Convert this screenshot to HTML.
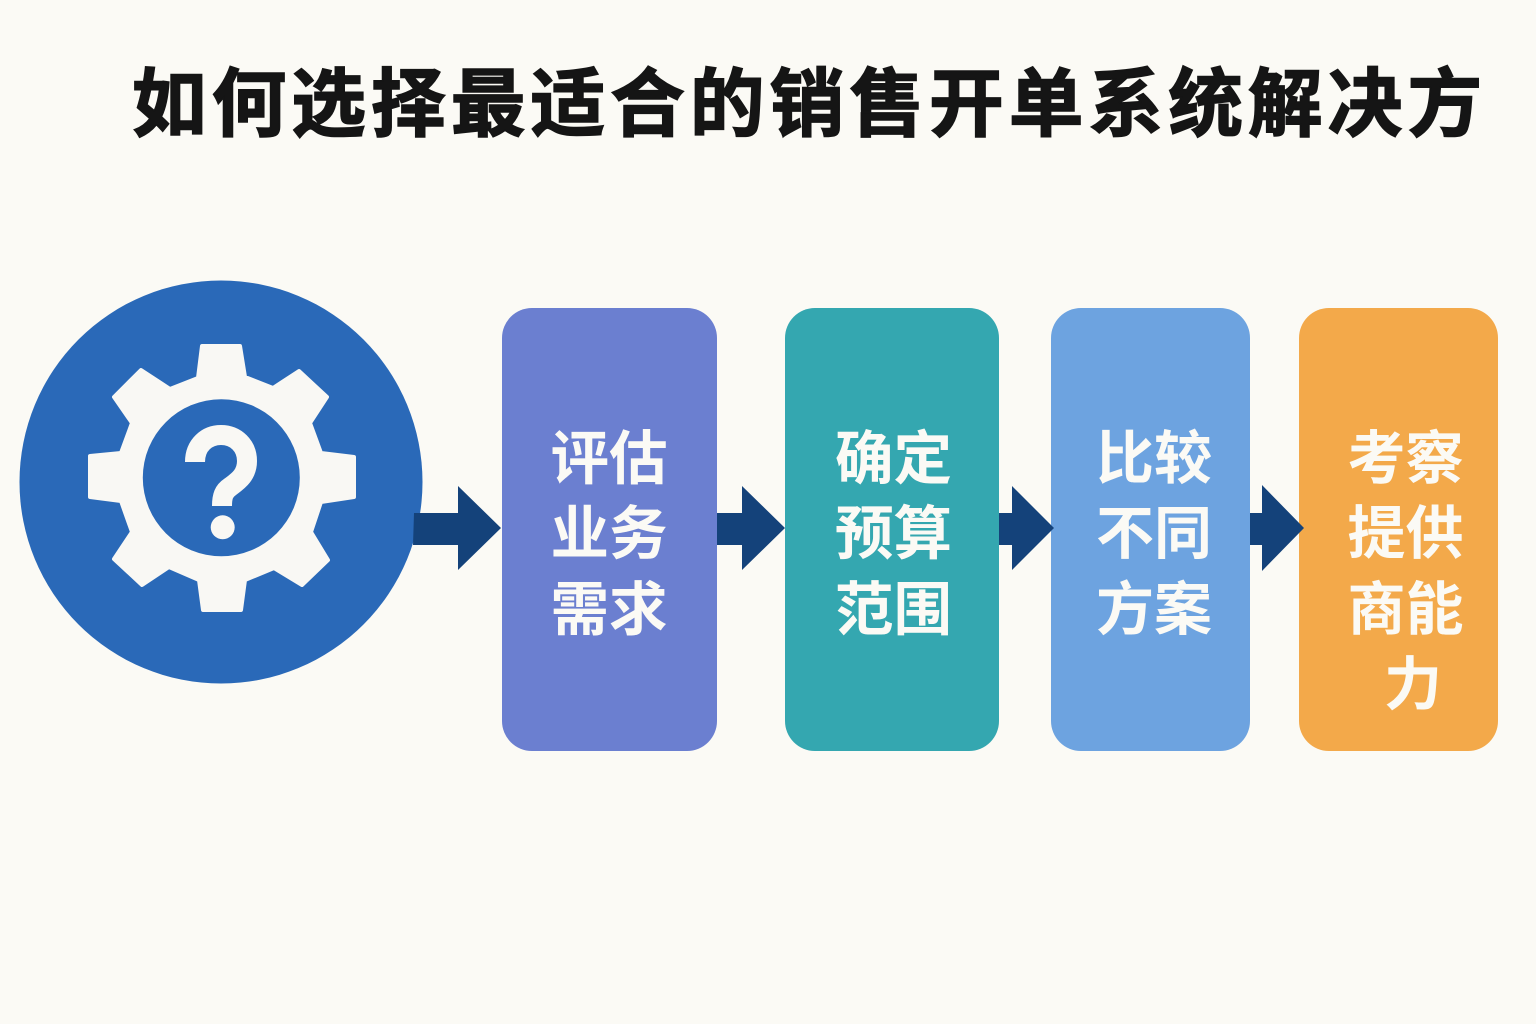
<!DOCTYPE html>
<html lang="zh-CN">
<head>
<meta charset="utf-8">
<title>如何选择最适合的销售开单系统解决方</title>
<style>
html,body{margin:0;padding:0;background:#fbfaf5;}
svg{display:block;}
text{font-family:"Liberation Sans","Noto Sans CJK SC",sans-serif;font-weight:700;}
.t{font-size:74.5px;fill:#151515;stroke:#151515;stroke-width:1.6px;}
.b{font-size:58.5px;fill:#fbfaf5;}
.c{font-size:58px;fill:#fbfaf5;}
</style>
</head>
<body>
<svg width="1536" height="1024" viewBox="0 0 1536 1024" xmlns="http://www.w3.org/2000/svg">
<rect width="1536" height="1024" fill="#fbfaf5"/>
<text class="t" x="132" y="130" textLength="1350" lengthAdjust="spacing">如何选择最适合的销售开单系统解决方</text>

<circle cx="221" cy="482" r="201.5" fill="#2a69b8"/>
<polygon fill="#f9f8f4" stroke="#f9f8f4" stroke-width="4" stroke-linejoin="round" points="202,346 240,346 245,377 273,388 299,371 327,397 310,423 321,453 354,457 354,497 321,502 311,532 328,560 302,585 274,568 245,580 241,610 203,610 199,580 169,567 142,585 114,559 132,532 121,501 90,497 90,456 121,453 132,423 114,397 141,370 170,389 198,378"/>
<circle cx="221.3" cy="477.7" r="78.5" fill="#2a69b8"/>
<path d="M195 462 C195 445 207 435 221 435 C236 435 247 446 247 461 C247 475 238 481 230 487 C224 491 222 496 222 506" fill="none" stroke="#f9f8f4" stroke-width="20"/>
<circle cx="222.7" cy="527.3" r="12" fill="#f9f8f4"/>

<rect x="502" y="308" width="215" height="443" rx="30" fill="#6b7fd0"/>
<rect x="785" y="308" width="214" height="443" rx="30" fill="#34a7b0"/>
<rect x="1051" y="308" width="199" height="443" rx="30" fill="#6da3e0"/>
<rect x="1299" y="308" width="199" height="443" rx="30" fill="#f3a94a"/>

<g fill="#14427a">
<polygon points="414,513 458,513 458,486 501,528 458,570 458,545 413,545"/>
<polygon points="717,513 742,513 742,486 785,528 742,570 742,545 717,545"/>
<polygon points="999,513 1012,513 1012,486 1054,528 1012,570 1012,545 999,545"/>
<polygon points="1250,513 1262,513 1262,485 1304,528 1262,571 1262,545 1250,545"/>
</g>

<text class="b" x="550.5" y="479">评估</text>
<text class="b" x="550.5" y="554">业务</text>
<text class="b" x="550.5" y="630">需求</text>

<text class="b" x="835" y="479">确定</text>
<text class="b" x="835" y="554">预算</text>
<text class="b" x="835" y="630">范围</text>

<text class="c" x="1096" y="478.5">比较</text>
<text class="c" x="1096" y="553.5">不同</text>
<text class="c" x="1096" y="629.5">方案</text>

<text class="c" x="1347.5" y="478.5">考察</text>
<text class="c" x="1347.5" y="553.5">提供</text>
<text class="c" x="1347.5" y="629.5">商能</text>
<text class="c" x="1384" y="704.5">力</text>
</svg>
</body>
</html>
